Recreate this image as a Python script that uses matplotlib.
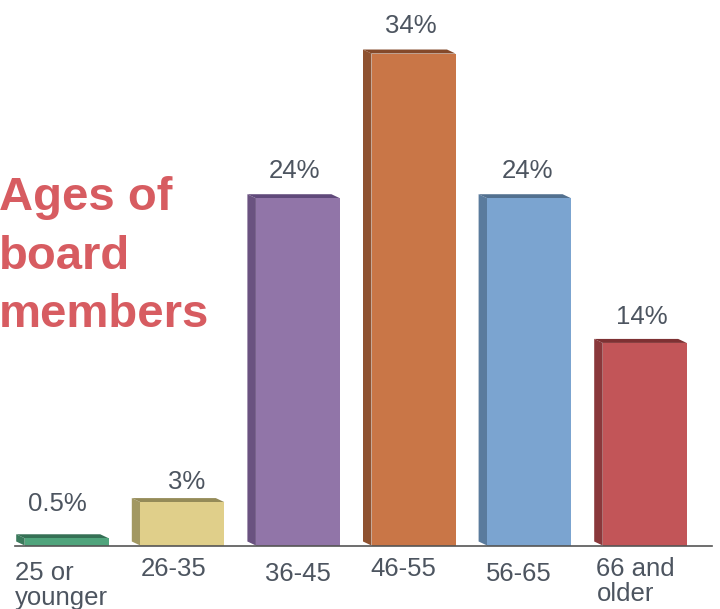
import matplotlib.pyplot as plt
from matplotlib.patches import Polygon
from matplotlib.transforms import offset_copy

# data
categories = ["25 or\nyounger", "26-35", "36-45", "46-55", "56-65", "66 and\nolder"]
values = [0.5, 3, 24, 34, 24, 14]
value_labels = ["0.5%", "3%", "24%", "34%", "24%", "14%"]

# colours: front, side, top faces
front_colors = ["#50a47c", "#e0cf8a", "#9175a8", "#c97647", "#7ba4d0", "#c25558"]
side_colors = ["#3b7a5c", "#a29862", "#6a5280", "#8f5230", "#5a7b9d", "#8a383b"]
top_colors = ["#357055", "#958b58", "#60497a", "#84492a", "#52708f", "#7e3133"]

# small per-label nudges (pixels) to follow the reference layout
label_dx = [-9, 4, -3, -3, -2, -3]
label_gap = [27, 13, 20, 21, 20, 19]
tick_dx = [-5, -9, 0, -10, -10, -9]
tick_top = [561, 557, 562, 557, 562, 557]

text_color = "#4d5560"
plt.rcParams["font.family"] = ["Liberation Sans", "DejaVu Sans"]

W, H = 720, 609
fig = plt.figure(figsize=(7.2, 6.09), dpi=100)
ax = fig.add_axes([15 / W, (H - 545.5) / H, 697 / W, 545.5 / H])

x0_px, step_px = 66.7, 115.6
ax.set_xlim((15 - x0_px) / step_px, (712 - x0_px) / step_px)
px_per_unit = 14.47
ax.set_ylim(0, 545.5 / px_per_unit)

width = 84 / step_px
dx = -8.5 / step_px          # depth offset in data units
dy = 4 / px_per_unit

xs = list(range(len(values)))
bars = ax.bar(xs, values, width=width, color=front_colors, zorder=3)

for bar, sc, tc in zip(bars, side_colors, top_colors):
    x = bar.get_x()
    w = bar.get_width()
    h = bar.get_height()
    side = Polygon([(x, 0), (x, h), (x + dx, h + dy), (x + dx, dy)],
                   closed=True, facecolor=sc, edgecolor="none", zorder=2, clip_on=False)
    top = Polygon([(x, h), (x + w, h), (x + w + dx, h + dy), (x + dx, h + dy)],
                  closed=True, facecolor=tc, edgecolor="none", zorder=2, clip_on=False)
    ax.add_patch(side)
    ax.add_patch(top)

# value labels
for i, (bar, lab) in enumerate(zip(bars, value_labels)):
    tr = offset_copy(ax.transData, fig=fig, x=label_dx[i] * 0.72, y=label_gap[i] * 0.72, units="points")
    ax.text(bar.get_x() + bar.get_width() / 2, bar.get_height(), lab, transform=tr,
            ha="center", va="baseline", fontsize=18.5, color=text_color)

# category labels
for i, cat in enumerate(categories):
    y_fig = (H - tick_top[i]) / H
    xpix = ax.transData.transform((xs[i], 0))[0] + tick_dx[i]
    fig.text(xpix / W, y_fig, cat, ha="center", va="top", multialignment="left",
             fontsize=18.5, color=text_color, linespacing=1.05)

ax.set_xticks([])
ax.set_yticks([])
for s in ["top", "left", "right"]:
    ax.spines[s].set_visible(False)
ax.spines["bottom"].set_color("#555555")
ax.spines["bottom"].set_linewidth(1.2)
ax.spines["bottom"].set_zorder(4)
ax.patch.set_visible(False)

# title (baseline of the last line)
fig.text(-1 / W, (H - 327) / H, "Ages of\nboard\nmembers", ha="left", va="baseline",
         fontsize=34, fontweight="bold", color="#d75c61", linespacing=1.42)

fig.savefig("out.png", dpi=100)
